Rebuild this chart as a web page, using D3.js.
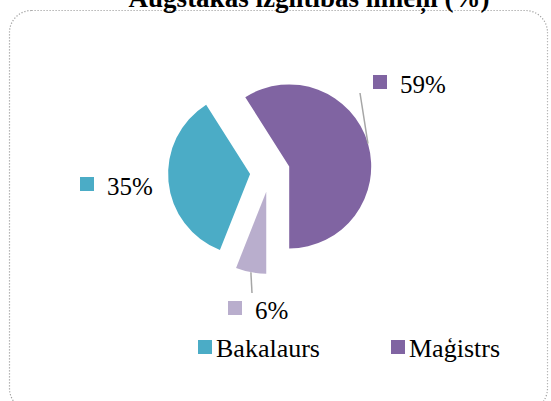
<!DOCTYPE html>
<html lang="lv">
<head>
    <meta charset="UTF-8">
    <title>Augstākās izglītības līmeņi (%)</title>
    <script src="https://d3js.org/d3.v7.min.js"></script>
    <style>
        body { margin: 0; background: #fff; }
        svg text { font-family: "Liberation Serif", "Times New Roman", "DejaVu Serif", serif; fill: #000; }
        .leader { stroke: #a6a6a6; stroke-width: 1.5; fill: none; }
    </style>
</head>
<body>
<div id="chart"></div>
<script>
    // data
    const categories = ["Bakalaurs", "Maģistrs", ""];
    const values = [35, 59, 6];
    const labels = ["35%", "59%", "6%"];
    const colors = ["#4bacc6", "#8064a2", "#b9aecd"];

    const serif = "'Liberation Serif', 'Times New Roman', 'DejaVu Serif', serif";
    const width = 551, height = 401;
    const cx = 270, cy = 172, radius = 82, explode = 20;
    const startDeg = 201.6;

    const svg = d3.select("#chart").append("svg")
        .attr("width", width)
        .attr("height", height);

    // dotted rounded frame
    svg.append("rect")
        .attr("x", 9.5).attr("y", 10.5)
        .attr("width", 538).attr("height", 400)
        .attr("rx", 22).attr("ry", 22)
        .attr("fill", "none")
        .attr("stroke", "#a0a0a0")
        .attr("stroke-width", 1.2)
        .attr("stroke-dasharray", "1.2,1.8");

    // title (cut at the top like the original)
    svg.append("text")
        .attr("x", 309).attr("y", 7)
        .attr("text-anchor", "middle")
        .style("font-family", serif)
        .style("font-weight", "bold")
        .style("font-size", "27px")
        .text("Augstākās izglītības līmeņi (%)");

    const pie = d3.pie().sort(null)
        .startAngle(startDeg * Math.PI / 180)
        .endAngle(startDeg * Math.PI / 180 + 2 * Math.PI);
    const arcs = pie(values);
    const arc = d3.arc().innerRadius(0).outerRadius(radius);

    function offset(d, dist) {
        const a = (d.startAngle + d.endAngle) / 2;
        return [Math.sin(a) * dist, -Math.cos(a) * dist];
    }

    const g = svg.append("g").attr("transform", "translate(" + cx + "," + cy + ")");

    g.selectAll("path.slice")
        .data(arcs)
        .enter().append("path")
        .attr("class", "slice")
        .attr("fill", (d, i) => colors[i])
        .attr("transform", d => "translate(" + offset(d, explode) + ")")
        .attr("d", arc);

    // label layout (square + text), relative to the pie centre
    const labelPos = [[-190, 6], [103, -96], [-42, 130]];
    // leader line ends for slices that have one
    const leaderEnd = [null, [90, -79], [-18, 121]];

    arcs.forEach((d, i) => {
        if (!leaderEnd[i]) return;
        const o = offset(d, explode + radius);
        g.append("line").attr("class", "leader")
            .attr("x1", o[0]).attr("y1", o[1])
            .attr("x2", leaderEnd[i][0]).attr("y2", leaderEnd[i][1]);
    });

    const lab = g.selectAll("g.lab")
        .data(arcs)
        .enter().append("g")
        .attr("class", "lab")
        .attr("transform", (d, i) => "translate(" + labelPos[i] + ")");
    lab.append("rect")
        .attr("x", 0).attr("y", -1)
        .attr("width", 14).attr("height", 14)
        .attr("fill", (d, i) => colors[i]);
    lab.append("text")
        .attr("x", 27).attr("y", 17)
        .style("font-family", serif)
        .style("font-size", "25px")
        .text((d, i) => labels[i]);

    // legend
    const legendX = [198, 391];
    const legendData = categories.map((c, i) => ({ name: c, color: colors[i] }))
        .filter(d => d.name !== "");
    const leg = svg.selectAll("g.legend")
        .data(legendData)
        .enter().append("g")
        .attr("class", "legend")
        .attr("transform", (d, i) => "translate(" + legendX[i] + ",340)");
    leg.append("rect")
        .attr("width", 14).attr("height", 14)
        .attr("fill", d => d.color);
    leg.append("text")
        .attr("x", 18).attr("y", 17)
        .style("font-family", serif)
        .style("font-size", "26px")
        .text(d => d.name);
</script>
</body>
</html>
